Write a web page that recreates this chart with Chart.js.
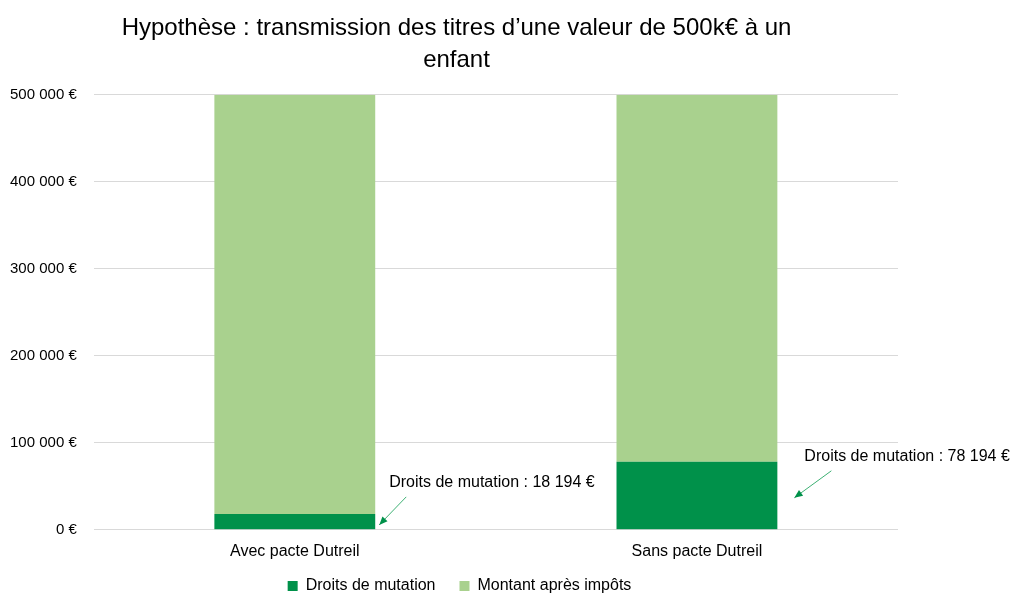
<!DOCTYPE html>
<html>
<head>
<meta charset="utf-8">
<script src="https://cdn.jsdelivr.net/npm/chart.js@4"></script>
<style>
  html, body { margin: 0; padding: 0; background: #fff; }
  #wrap { width: 1024px; height: 608px; }
</style>
</head>
<body>
<div id="wrap"><canvas id="graphique"></canvas></div>
<script>
// Données du graphique
const categories = ['Avec pacte Dutreil', 'Sans pacte Dutreil'];
const droitsMutation = [18194, 78194];
const montantApresImpots = [481806, 421806];
const yTicks = [0, 100000, 200000, 300000, 400000, 500000];

const police = "'Liberation Sans', sans-serif";

function formatEuro(v) {
  return v.toString().replace(/\B(?=(\d{3})+(?!\d))/g, ' ') + ' €';
}

// Annotations avec flèches vers la partie "droits de mutation"
const decalages = [
  { pointe: 4, dx: 27, dy: 28, bas: 3 },
  { pointe: 17, dx: 37, dy: 27, bas: 2 }
];

const annotations = {
  id: 'annotations',
  afterLayout(chart) {
    // le titre est un peu décalé vers la droite dans l'original
    chart.titleBlock.left += 11;
    chart.titleBlock.right += 11;
    // la légende remonte un peu sous les libellés, et se décale à droite
    chart.legend.top -= 11;
    chart.legend.bottom -= 11;
    chart.legend.left += 14;
    chart.legend.right += 14;
  },
  afterDatasetsDraw(chart) {
    const ctx = chart.ctx;
    const yScale = chart.scales.y;
    const meta = chart.getDatasetMeta(0);
    ctx.save();
    meta.data.forEach((bar, i) => {
      const d = decalages[i];
      const droite = bar.x + bar.width / 2;
      const tipX = droite + d.pointe;
      const tipY = yScale.getPixelForValue(droitsMutation[i] / 2) + d.bas;
      const tailX = tipX + d.dx;
      const tailY = tipY - d.dy;
      ctx.strokeStyle = '#3DB073';
      ctx.fillStyle = '#00914A';
      ctx.lineWidth = 1;
      ctx.beginPath();
      ctx.moveTo(tailX, tailY);
      ctx.lineTo(tipX, tipY);
      ctx.stroke();
      const ang = Math.atan2(tipY - tailY, tipX - tailX);
      ctx.beginPath();
      ctx.moveTo(tipX, tipY);
      ctx.lineTo(tipX - 9 * Math.cos(ang - 0.4), tipY - 9 * Math.sin(ang - 0.4));
      ctx.lineTo(tipX - 9 * Math.cos(ang + 0.4), tipY - 9 * Math.sin(ang + 0.4));
      ctx.closePath();
      ctx.fill();
      ctx.fillStyle = '#000';
      ctx.font = '16px ' + police;
      ctx.textBaseline = 'middle';
      ctx.textAlign = 'left';
      ctx.fillText('Droits de mutation : ' + formatEuro(droitsMutation[i]), tipX + 10, tailY - 14);
    });
    ctx.restore();
  }
};

new Chart(document.getElementById('graphique'), {
  type: 'bar',
  data: {
    labels: categories,
    datasets: [
      {
        label: 'Droits de mutation',
        data: droitsMutation,
        backgroundColor: '#00914A',
        categoryPercentage: 0.4,
        barPercentage: 1
      },
      {
        label: 'Montant après impôts',
        data: montantApresImpots,
        backgroundColor: '#A9D18E',
        categoryPercentage: 0.4,
        barPercentage: 1
      }
    ]
  },
  options: {
    responsive: true,
    maintainAspectRatio: false,
    animation: false,
    layout: { padding: { left: -7, right: 126, top: 6, bottom: -7 } },
    plugins: {
      title: {
        display: true,
        text: ['Hypothèse : transmission des titres d’une valeur de 500k€ à un', 'enfant'],
        color: '#000',
        font: { family: police, size: 24, weight: 'normal', lineHeight: 1.35 },
        padding: { top: 6, bottom: 18 }
      },
      legend: {
        position: 'bottom',
        labels: {
          color: '#000',
          font: { family: police, size: 16 },
          boxWidth: 10,
          boxHeight: 10,
          padding: 24
        }
      },
      tooltip: { enabled: false }
    },
    scales: {
      x: {
        stacked: true,
        grid: { display: false },
        border: { display: false },
        ticks: { color: '#000', font: { family: police, size: 16 }, padding: 4 }
      },
      y: {
        stacked: true,
        min: 0,
        max: 500000,
        afterBuildTicks(axis) {
          axis.ticks = yTicks.map(v => ({ value: v }));
        },
        grid: { color: '#D9D9D9', drawTicks: false },
        border: { display: false },
        ticks: {
          color: '#000',
          font: { family: police, size: 15 },
          padding: 17,
          callback: v => formatEuro(v)
        }
      }
    }
  },
  plugins: [annotations]
});
</script>
</body>
</html>
